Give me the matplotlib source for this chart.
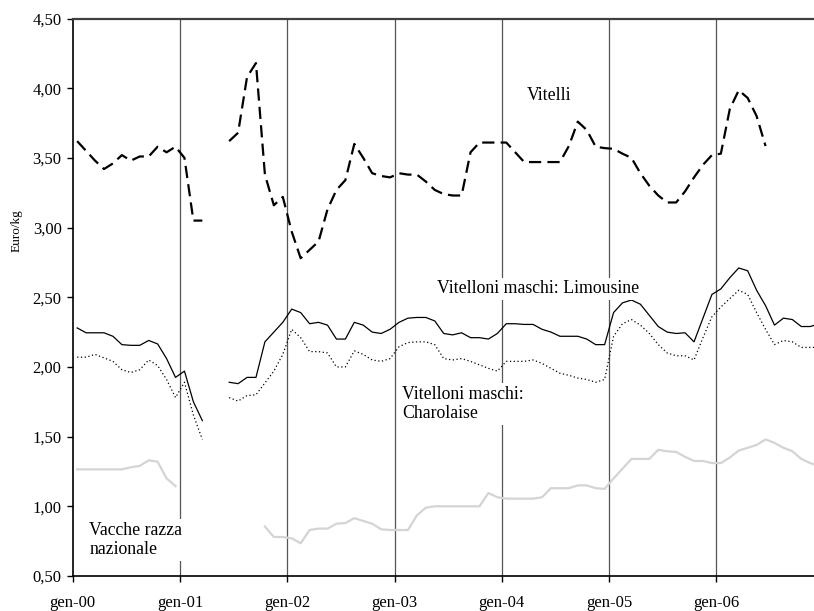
import numpy as np
import matplotlib
matplotlib.use("Agg")
import matplotlib.pyplot as plt

nan = np.nan

# mesi gen-00 ... dic-06 (84 osservazioni mensili)
months = np.arange(84)
year_labels = ["gen-00", "gen-01", "gen-02", "gen-03", "gen-04", "gen-05", "gen-06"]

vitelli = [
    3.62, 3.55, 3.48, 3.42, 3.46, 3.52, 3.48, 3.51, 3.51, 3.58, 3.54, 3.58,
    3.50, 3.05, 3.05, nan, nan, 3.62, 3.68, 4.08, 4.18, 3.38, 3.16, 3.22,
    2.97, 2.78, 2.84, 2.90, 3.13, 3.27, 3.34, 3.60, 3.50, 3.39, 3.37, 3.36,
    3.39, 3.38, 3.38, 3.33, 3.27, 3.24, 3.23, 3.23, 3.54, 3.61, 3.61, 3.61,
    3.61, 3.54, 3.47, 3.47, 3.47, 3.47, 3.47, 3.585, 3.76, 3.70, 3.58, 3.57,
    3.565, 3.53, 3.50, 3.39, 3.30, 3.23, 3.18, 3.18, 3.26, 3.36, 3.45, 3.52,
    3.53, 3.85, 3.985, 3.93, 3.80, 3.585, nan, nan, nan, nan, nan, nan,
]

limousine = [
    2.28, 2.245, 2.245, 2.245, 2.22, 2.16, 2.155, 2.155, 2.19, 2.165, 2.06, 1.925,
    1.97, 1.75, 1.615, nan, nan, 1.89, 1.88, 1.925, 1.925, 2.18, 2.25, 2.32,
    2.415, 2.39, 2.31, 2.32, 2.30, 2.20, 2.20, 2.32, 2.30, 2.25, 2.24, 2.27,
    2.32, 2.35, 2.355, 2.355, 2.33, 2.24, 2.23, 2.245, 2.21, 2.21, 2.20, 2.24,
    2.31, 2.31, 2.305, 2.305, 2.27, 2.25, 2.22, 2.22, 2.22, 2.20, 2.16, 2.16,
    2.39, 2.46, 2.48, 2.45, 2.37, 2.29, 2.25, 2.24, 2.245, 2.18, 2.35, 2.52,
    2.56, 2.64, 2.71, 2.69, 2.55, 2.44, 2.30, 2.35, 2.34, 2.29, 2.29, 2.31,
]

charolaise = [
    2.07, 2.07, 2.09, 2.065, 2.04, 1.98, 1.96, 1.98, 2.05, 2.01, 1.91, 1.78,
    1.89, 1.655, 1.48, nan, nan, 1.78, 1.755, 1.795, 1.80, 1.885, 1.97, 2.09,
    2.27, 2.21, 2.11, 2.11, 2.10, 2.00, 2.00, 2.115, 2.09, 2.05, 2.04, 2.06,
    2.145, 2.175, 2.18, 2.18, 2.16, 2.06, 2.05, 2.06, 2.04, 2.015, 1.99, 1.97,
    2.04, 2.04, 2.04, 2.05, 2.025, 1.99, 1.955, 1.94, 1.92, 1.91, 1.89, 1.91,
    2.22, 2.31, 2.34, 2.30, 2.24, 2.16, 2.10, 2.08, 2.08, 2.05, 2.21, 2.36,
    2.43, 2.49, 2.55, 2.52, 2.39, 2.27, 2.16, 2.19, 2.18, 2.14, 2.14, 2.14,
]

vacche = [
    1.265, 1.265, 1.265, 1.265, 1.265, 1.265, 1.28, 1.29, 1.33, 1.32, 1.20, 1.145,
    nan, nan, nan, nan, nan, nan, nan, nan, nan, 0.855, 0.78, 0.78,
    0.77, 0.735, 0.83, 0.84, 0.84, 0.875, 0.88, 0.915, 0.895, 0.875, 0.835, 0.83,
    0.83, 0.83, 0.935, 0.99, 1.00, 1.00, 1.00, 1.00, 1.00, 1.00, 1.095, 1.065,
    1.055, 1.055, 1.055, 1.055, 1.065, 1.13, 1.13, 1.13, 1.15, 1.15, 1.13, 1.125,
    1.20, 1.27, 1.34, 1.34, 1.34, 1.405, 1.395, 1.39, 1.355, 1.325, 1.325, 1.31,
    1.31, 1.35, 1.40, 1.42, 1.44, 1.48, 1.455, 1.42, 1.395, 1.34, 1.31, 1.29,
]

serif = ["Liberation Serif", "DejaVu Serif"]
plt.rcParams["font.family"] = serif

fig = plt.figure(figsize=(8.14, 6.11), dpi=100)
ax = fig.add_axes([72.7 / 814, 35 / 611, 1 - 72.7 / 814, 557.5 / 611])

x = months + 0.5
ax.plot(x, vacche, color="#d4d4d4", lw=1.6, zorder=2)
ax.plot(x, charolaise, color="black", lw=0.9, linestyle=(0, (1, 2)), zorder=3)
ax.plot(x, limousine, color="black", lw=0.9, zorder=3)
ax.plot(x, vitelli, color="black", lw=1.6, linestyle=(0, (5.5, 2.8)), zorder=3)

ax.set_xlim(0, (814 - 72.7) / 8.94)
ax.set_ylim(0.5, 4.5)
ax.set_xticks(np.arange(0, 84, 12))
ax.set_xticklabels(year_labels)
ax.set_yticks(np.arange(0.5, 4.51, 0.5))
ax.set_yticklabels([f"{v:.2f}".replace(".", ",") for v in np.arange(0.5, 4.51, 0.5)])
ax.tick_params(axis="both", labelsize=12, direction="out", length=4.5, width=1)
ax.tick_params(axis="y", pad=3.5)
ax.tick_params(axis="x", pad=9)

for yr in range(12, 84, 12):
    ax.axvline(yr, color="#555555", lw=0.9, zorder=1)

ax.spines["right"].set_visible(False)
ax.spines["top"].set_color("#404040")
ax.spines["top"].set_linewidth(1.6)
ax.spines["left"].set_linewidth(1.2)
ax.spines["bottom"].set_linewidth(1.2)

box = dict(facecolor="white", edgecolor="none", pad=2)
ax.text(50.8, 3.944, "Vitelli", fontsize=12.8, ha="left", va="center", zorder=5)
ax.text(40.75, 2.56, "Vitelloni maschi: Limousine", fontsize=12.8, ha="left",
        va="center", bbox=box, zorder=5)
ax.text(36.85, 1.735, "Vitelloni maschi:\nCharolaise", fontsize=12.8, ha="left",
        va="center", bbox=box, zorder=5, linespacing=1.15)
ax.text(1.86, 0.759, "Vacche razza\nnazionale", fontsize=12.8, ha="left",
        va="center", bbox=box, zorder=5, linespacing=1.15)

fig.text(17 / 814, 1 - 231 / 611, "Euro/kg", rotation=90, fontsize=9.5,
         ha="center", va="center")

fig.savefig("out.png", dpi=100)
